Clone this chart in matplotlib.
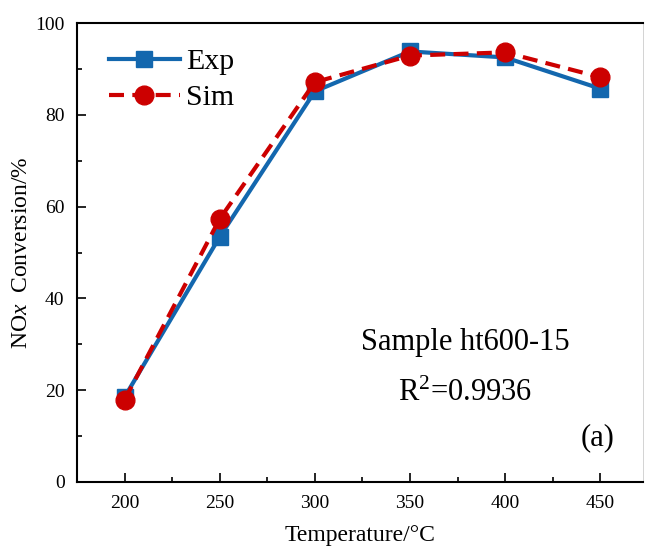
import matplotlib.pyplot as plt
from matplotlib.ticker import MultipleLocator

temperature = [200, 250, 300, 350, 400, 450]
exp_conv = [18.5, 53.4, 85.1, 93.8, 92.5, 85.7]
sim_conv = [17.9, 57.3, 87.1, 92.9, 93.6, 88.2]

BLUE = "#1367ae"
RED = "#cc0000"

plt.rcParams["font.family"] = ["Liberation Serif", "DejaVu Serif"]
plt.rcParams["mathtext.fontset"] = "custom"
plt.rcParams["mathtext.rm"] = "Liberation Serif"
plt.rcParams["mathtext.it"] = "Liberation Serif:italic"

fig = plt.figure(figsize=(6.46, 5.48), dpi=100)
ax = fig.add_axes([77 / 646, 1 - 482 / 548, (643 - 77) / 646, (482 - 23) / 548])

ax.plot(temperature, exp_conv, color=BLUE, lw=3.0, marker="s", ms=11,
        label="Exp", zorder=2)
ax.plot(temperature, sim_conv, color=RED, lw=3.0, ls=(0, (3.6, 2)), marker="o",
        ms=13.5, label="Sim", zorder=3)

ax.set_xlim(175, 472.5)
ax.set_ylim(0, 100)
ax.xaxis.set_major_locator(MultipleLocator(50))
ax.xaxis.set_minor_locator(MultipleLocator(25))
ax.yaxis.set_major_locator(MultipleLocator(20))
ax.yaxis.set_minor_locator(MultipleLocator(10))
ax.tick_params(which="both", direction="in", labelsize=14, top=False, right=False)
ax.tick_params(which="major", length=6.5, width=1.2, pad=9)
ax.tick_params(which="minor", length=3.5, width=1.2)
for side in ["left", "bottom", "top"]:
    ax.spines[side].set_linewidth(1.5)
ax.spines["right"].set_linewidth(0.6)
ax.spines["right"].set_color("#cccccc")

ax.set_xlabel("Temperature/\u00b0C", fontsize=17, labelpad=10)
ax.set_ylabel("NO$\\mathit{x}$  Conversion/%", fontsize=17)
ax.yaxis.label.set_verticalalignment("center")
ax.yaxis.set_label_coords(-0.098, 0.5)

ax.legend(loc="upper left", fontsize=21.5, frameon=False, handlelength=2.4,
          handletextpad=0.2, borderaxespad=0.3, labelspacing=0.3,
          bbox_to_anchor=(0.019, 0.99))

ax.text(0.686, 0.303, "Sample ht600-15", transform=ax.transAxes, fontsize=22,
        ha="center", va="center")
ax.text(0.686, 0.194, "R$^{2}$=0.9936", transform=ax.transAxes, fontsize=22,
        ha="center", va="center")
ax.text(0.92, 0.096, "(a)", transform=ax.transAxes, fontsize=22,
        ha="center", va="center")

fig.savefig("out.png", dpi=100)
